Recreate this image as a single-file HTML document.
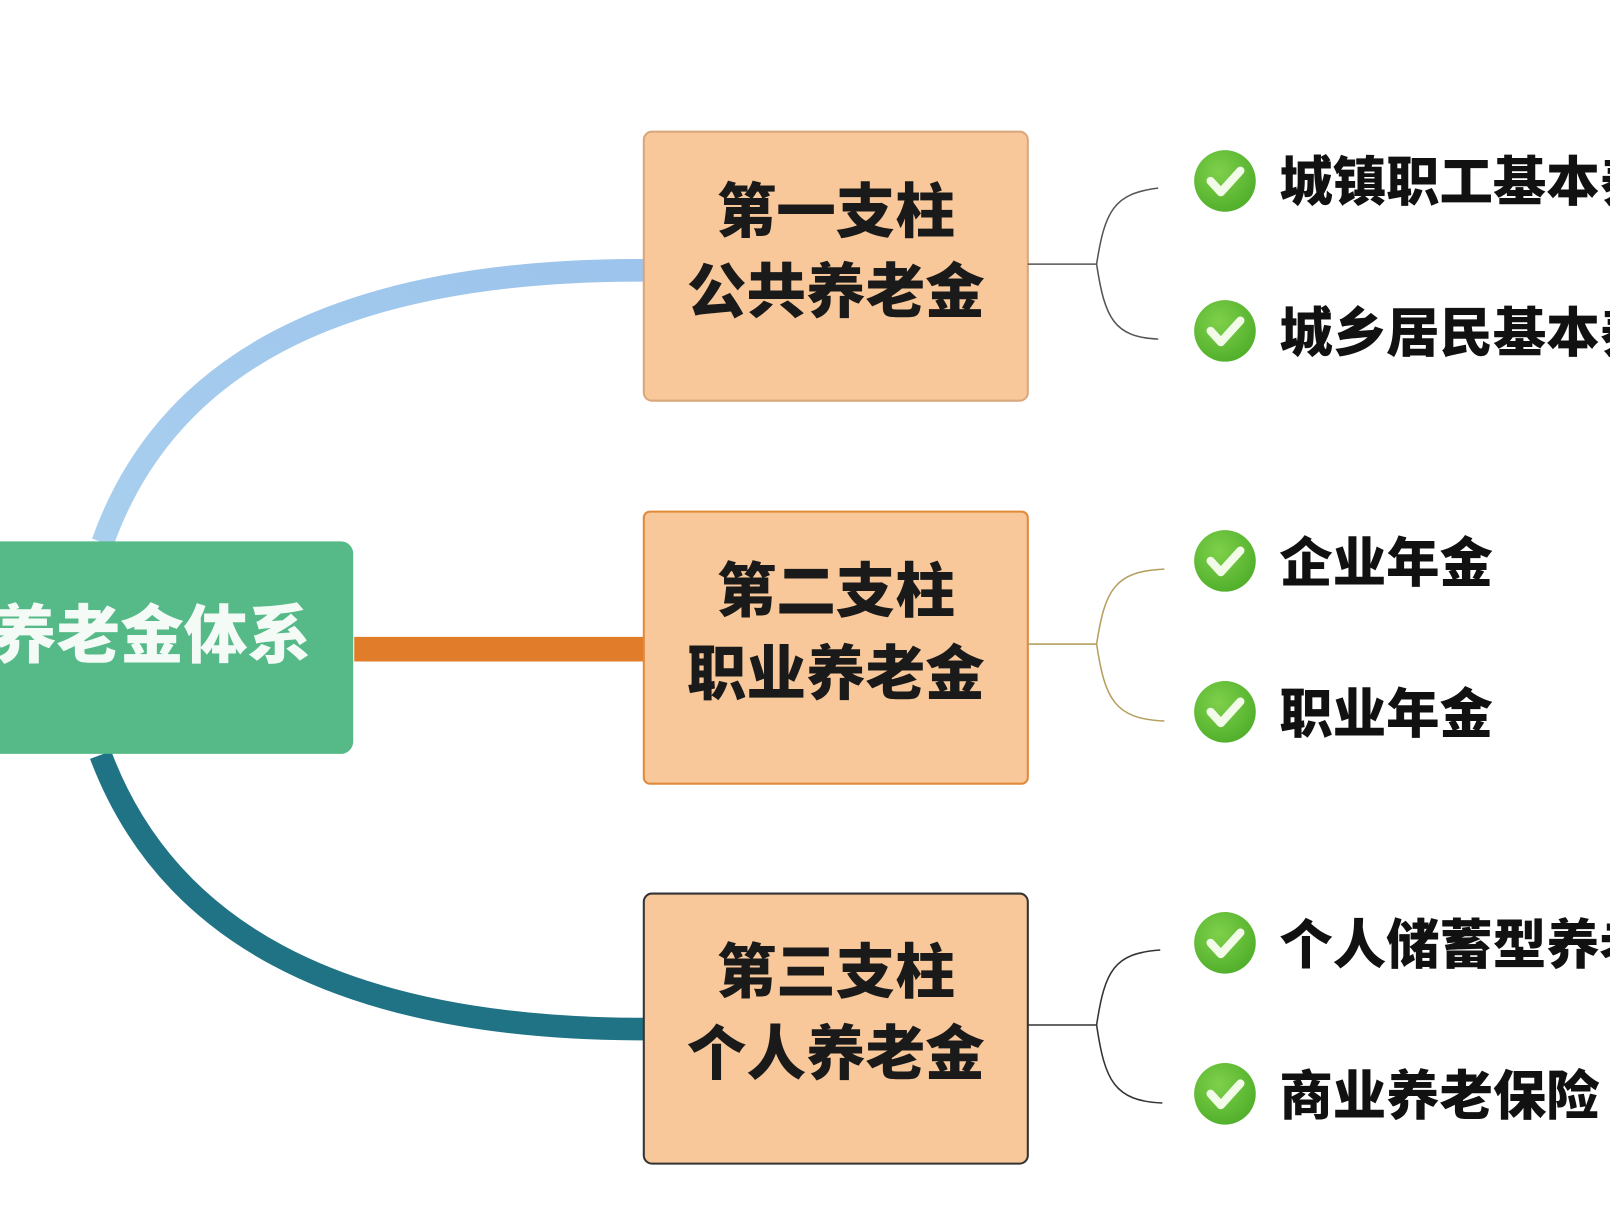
<!DOCTYPE html>
<html><head><meta charset="utf-8"><style>
html,body{margin:0;padding:0;background:#fff;}
svg{display:block;}
text{font-family:"Liberation Sans","Noto Sans CJK SC",sans-serif;font-weight:900;}
</style></head><body>
<svg width="1610" height="1208" viewBox="0 0 1568 1176" xmlns="http://www.w3.org/2000/svg">
<defs>
<linearGradient id="bl" x1="0" y1="1" x2="1" y2="0">
<stop offset="0" stop-color="#a9cfee"/><stop offset="1" stop-color="#9cc4ec"/></linearGradient>
<radialGradient id="gc" cx="0.4" cy="0.35" r="0.7"><stop offset="0" stop-color="#7fd04a"/><stop offset="1" stop-color="#4fae2a"/></radialGradient>
</defs>
<rect width="1568" height="1176" fill="#fff"/>
<!-- connectors -->
<path d="M100 528 C 160 360, 320 262, 628 263" fill="none" stroke="url(#bl)" stroke-width="22"/>
<path d="M345 632 L628 632" stroke="#e07c2a" stroke-width="24"/>
<path d="M98 735 C 160 900, 320 1002, 628 1002" fill="none" stroke="#1f7384" stroke-width="22"/>
<!-- root -->
<rect x="-20" y="527" width="364" height="207" rx="12" fill="#55b988"/>
<text x="148" y="640" font-size="62" fill="#f4fbf6" text-anchor="middle">养老金体系</text>
<!-- boxes -->
<g stroke-width="2">
<rect x="627" y="128" width="374" height="262" rx="8" fill="#f8c89a" stroke="#d9a77c"/>
<rect x="627" y="498" width="374" height="265" rx="6" fill="#f8c89a" stroke="#e08a3a"/>
<rect x="627" y="870" width="374" height="263" rx="8" fill="#f8c89a" stroke="#333"/>
</g>
<g font-size="58" fill="#1a1a1a" text-anchor="middle">
<text x="814" y="226">第一支柱</text><text x="814" y="304">公共养老金</text>
<text x="814" y="596">第二支柱</text><text x="814" y="676">职业养老金</text>
<text x="814" y="967">第三支柱</text><text x="814" y="1046">个人养老金</text>
</g>
<!-- brackets -->
<g fill="none" stroke-width="1.5">
<path d="M1001 257 H1068 M1068 257 C1076 205,1085 188,1128 183 M1068 257 C1076 310,1085 328,1128 330" stroke="#555"/>
<path d="M1001 627 H1068 M1068 627 C1076 575,1085 556,1134 554 M1068 627 C1076 680,1085 700,1134 702" stroke="#b5a060"/>
<path d="M1001 998 H1068 M1068 998 C1076 945,1085 928,1130 925 M1068 998 C1076 1052,1085 1072,1132 1074" stroke="#333"/>
</g>
<!-- items -->
<g>
<g transform="translate(1193,176)"><circle r="30" fill="url(#gc)"/><path d="M-14 0 L-4 11 L15 -10" stroke="#f2fbe8" stroke-width="8" fill="none" stroke-linecap="round" stroke-linejoin="round"/></g>
<g transform="translate(1193,322)"><circle r="30" fill="url(#gc)"/><path d="M-14 0 L-4 11 L15 -10" stroke="#f2fbe8" stroke-width="8" fill="none" stroke-linecap="round" stroke-linejoin="round"/></g>
<g transform="translate(1193,546)"><circle r="30" fill="url(#gc)"/><path d="M-14 0 L-4 11 L15 -10" stroke="#f2fbe8" stroke-width="8" fill="none" stroke-linecap="round" stroke-linejoin="round"/></g>
<g transform="translate(1193,693)"><circle r="30" fill="url(#gc)"/><path d="M-14 0 L-4 11 L15 -10" stroke="#f2fbe8" stroke-width="8" fill="none" stroke-linecap="round" stroke-linejoin="round"/></g>
<g transform="translate(1193,918)"><circle r="30" fill="url(#gc)"/><path d="M-14 0 L-4 11 L15 -10" stroke="#f2fbe8" stroke-width="8" fill="none" stroke-linecap="round" stroke-linejoin="round"/></g>
<g transform="translate(1193,1065)"><circle r="30" fill="url(#gc)"/><path d="M-14 0 L-4 11 L15 -10" stroke="#f2fbe8" stroke-width="8" fill="none" stroke-linecap="round" stroke-linejoin="round"/></g>
</g>
<g font-size="52" fill="#111">
<text x="1246" y="195">城镇职工基本养老保险</text>
<text x="1246" y="342">城乡居民基本养老保险</text>
<text x="1246" y="566">企业年金</text>
<text x="1246" y="713">职业年金</text>
<text x="1246" y="938">个人储蓄型养老</text>
<text x="1246" y="1085">商业养老保险</text>
</g>
</svg>
</body></html>
